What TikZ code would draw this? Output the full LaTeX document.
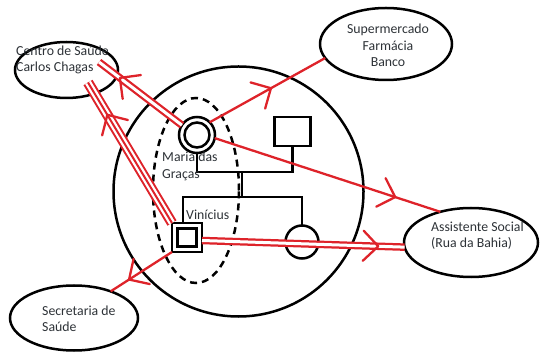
\documentclass[tikz,border=0pt]{standalone}
\usepackage{fontspec}
\setmainfont{Carlito}
\usetikzlibrary{shapes.geometric,decorations.markings,calc}
\definecolor{redc}{RGB}{222,35,42}
\definecolor{txt}{RGB}{45,50,55}
\begin{document}
\begin{tikzpicture}[x=1pt,y=-1pt,
  blk/.style={draw=black, line width=2.5pt, inner sep=0pt, outer sep=0pt},
  place/.style={ellipse, draw=black, line width=2.5pt, inner sep=0pt, outer sep=0pt},
  lbl/.style={text=txt, font=\fontsize{13.8}{16}\selectfont, inner sep=0pt, align=left},
  rline/.style={draw=redc, line width=2.3pt},
  dline/.style={draw=redc, line width=7.5pt},
  dwhite/.style={draw=white, line width=3pt},
  tline/.style={draw=redc, line width=10.5pt},
  twhite/.style={draw=white, line width=6.5pt},
  chev/.style={postaction={decorate}, decoration={markings, mark=at position #1 with {\draw[redc, line width=2.3pt, line cap=round, line join=round] (-15pt,15pt) -- (0pt,0pt) -- (-15pt,-15pt);}}}
]
\useasboundingbox (0,0) rectangle (540,352);

% network circle and household
\node[circle, blk, minimum size=250pt] (rede) at (238.5,191.5) {};
\node[ellipse, blk, dash pattern=on 7pt off 5pt, minimum width=86pt, minimum height=185pt] (nucleo) at (196,190.5) {};

% places
\node[place, minimum width=103pt, minimum height=56pt] (centro) at (66.5,70) {};
\node[place, minimum width=132pt, minimum height=72pt] (super) at (386,44) {};
\node[place, minimum width=134pt, minimum height=69pt] (assist) at (471,242.5) {};
\node[place, minimum width=128pt, minimum height=65pt] (sec) at (74,318) {};

% genogram
\node[circle, blk, minimum size=36pt] (maria) at (197,135) {};
\node[circle, blk, minimum size=25pt] (mariaIn) at (maria.center) {};
\node[rectangle, blk, minimum width=36pt, minimum height=29pt] (pai) at (292.5,131.5) {};
\node[rectangle, blk, minimum width=30pt, minimum height=29pt] (vin) at (187,237.5) {};
\node[rectangle, blk, minimum width=19pt, minimum height=18pt] (vinIn) at (vin.center) {};
\node[circle, blk, minimum size=33pt] (filha) at (302,242) {};

\coordinate (casL) at (197,172);
\coordinate (casR) at (292.5,172);
\coordinate (casM) at (242,172);
\coordinate (filL) at (183,197);
\coordinate (filR) at (302,197);
\coordinate (filM) at (242,197);
\draw[blk] (maria.south) -- (casL) -- (casR) -- (pai.south);
\draw[blk] (casM) -- (filM);
\draw[blk] (vin.north -| filL) -- (filL) -- (filR) -- (filha.north);

% labels
\node[lbl, anchor=west] (centroT) at (16,60) {Centro de Saúde\\Carlos Chagas};
\node[lbl, align=center, font=\fontsize{13.8}{16.5}\selectfont] (superT) at (388,45.5) {Supermercado\\Farmácia\\Banco};
\node[lbl, anchor=west] (assistT) at (431,235.5) {Assistente Social\\(Rua da Bahia)};
\node[lbl, anchor=west] (secT) at (42,318.5) {Secretaria de\\Saúde};
\node[lbl, anchor=west, font=\fontsize{13.8}{17}\selectfont] (mariaT) at (162,166.5) {Maria das\\Graças};
\node[lbl, anchor=west] (vinT) at (186,215) {Vinícius};

% red connectors
\coordinate (cA) at ($(centro.center)+(32.5,-8)$);
\coordinate (cB) at ($(centro.center)+(21.5,12.5)$);
\coordinate (vinR) at ($(vin.east)+(0,3)$);

% Maria -> Centro (double)
\draw[dline] (maria.147) -- (cA);
\draw[dwhite] (maria.147) -- (cA);
\path[chev=0.75] (maria.147) -- (cA);

% Vinicius -> Centro (triple)
\draw[tline] (vin.north west) -- (cB);
\draw[twhite] (vin.north west) -- (cB);
\draw[draw=redc, line width=2pt] (vin.north west) -- (cB);
\path[chev=0.77] (vin.north west) -- (cB);

% Maria -> Supermercado
\draw[rline, chev=0.53] (maria.45) -- (super.193);
% Maria -> Assistente Social
\draw[rline, chev=0.8] (maria.-10) -- (assist.135);
% Vinicius -> Assistente Social (double)
\draw[dline] (vinR) -- (assist.184);
\draw[dwhite] (vinR) -- (assist.184);
\path[chev=0.87] (vinR) -- (assist.184);
% Vinicius -> Secretaria
\draw[rline, chev=0.7] (vin.south west) -- (sec.36);
\end{tikzpicture}
\end{document}
